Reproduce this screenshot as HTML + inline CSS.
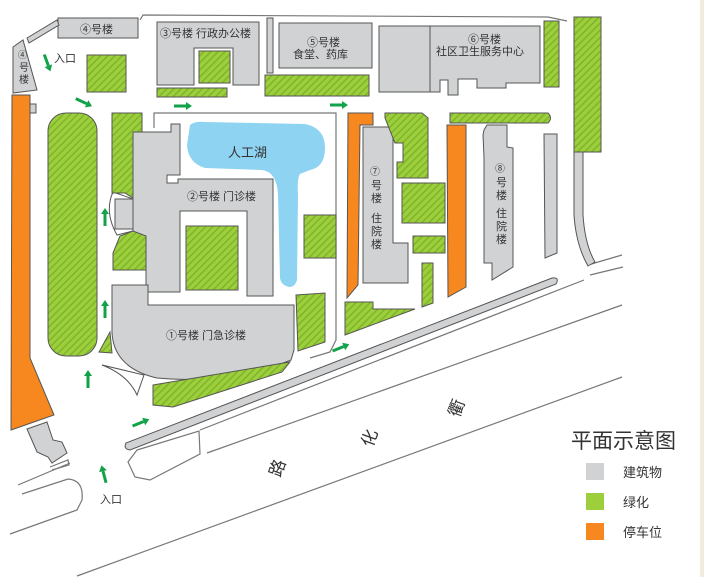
<!DOCTYPE html>
<html><head><meta charset="utf-8"><style>
html,body{margin:0;padding:0;background:#fff;}
svg{display:block;}
text{font-family:"Liberation Sans","Noto Sans CJK SC",sans-serif;fill:#333;}
</style></head><body>
<svg width="704" height="577" viewBox="0 0 704 577" xmlns="http://www.w3.org/2000/svg">
<defs>
<pattern id="h" width="5" height="5" patternUnits="userSpaceOnUse" patternTransform="rotate(45)">
<rect width="5" height="5" fill="#9dcf3c"/><rect width="1.4" height="5" fill="#7cb32a"/>
</pattern>
</defs>
<rect width="704" height="577" fill="#fff"/>
<rect x="700" y="0" width="4" height="577" fill="#f2ecdf"/>
<g fill="none" stroke="#777" stroke-width="1.2">
<polyline points="140,20 143,15 548,17 567,21"/>
<polyline points="154,128 154,113 336,113 336,340 330,352 310,358"/>
<line x1="207" y1="453" x2="622" y2="305"/>
<line x1="200" y1="430" x2="584" y2="280"/>
<line x1="77" y1="576" x2="622" y2="377"/>
<line x1="588" y1="265" x2="622" y2="255"/>
<line x1="590" y1="275" x2="623" y2="267"/>
<line x1="18" y1="485" x2="70" y2="463"/>
<path d="M22,494 L68,479 Q84,480 82,500 L77,510 L10,534"/>
<path d="M137,450 L199,431 L200,454 L150,480 L135,477 L128,462 Z"/>
<polyline points="50,467 68,460 69,465 52,470"/>
</g>
<g stroke="#555" stroke-width="1" fill="#d1d2d4">
<rect x="58" y="18" width="80" height="20"/>
<polygon points="27,38 57,20 59,25 29,43"/>
<polygon points="13,47 23,40 37,90 13,93"/>
<polygon points="20,100 28,98 28,104 36,104 36,113 30,113 30,118 18,118"/>
<polygon points="27,429 47,422 53,440 62,442 67,453 52,463 48,457 37,452"/>
<polygon points="157,22 259,22 259,85 233,85 233,48 194,48 194,85 157,85"/>
<rect x="267" y="18" width="6" height="55"/>
<rect x="279" y="23" width="93" height="45"/>
<rect x="379" y="26" width="51" height="66"/>
<polygon points="430,26 540,26 540,83 506,83 506,88 477,88 477,79 458,79 458,95 448,95 448,80 440,80 440,92 430,92"/>
<polygon points="133,132 171,132 171,124 180,124 180,175 167,175 167,183 178,183 178,179 273,179 273,296 247,296 247,211 180,211 180,292 146,292 146,236 133,236"/>
<path d="M112,285 L148,285 L148,305 L294,305 L294,350 L291,360 Q230,385 157,378 Q114,368 112,333 Z"/>
<rect x="115" y="199" width="18" height="30"/>
<polygon points="363,127 393,127 393,243 408,243 408,283 363,283"/>
<polygon points="484,130 487,125 507,125 507,147 513,148 513,267 492,280 492,263 484,263 484,157 483,135"/>
<polygon points="544,134 557,134 557,253 545,258"/>
<path d="M574,152 L583,152 L583,215 Q585,245 595,262 L588,266 Q576,245 574,215 Z"/>
<path d="M126,443 L552,278 Q560,277 556,284 L130,450 Q123,449 126,443 Z"/>
</g>
<path d="M113,192 Q104,212 117,235 L133,231 L133,199 Z" fill="none" stroke="#555" stroke-width="1"/>
<path d="M102,365 L144,375 L137,395 Q128,375 102,365 Z" fill="#fff" stroke="#555" stroke-width="1"/>
<path d="M190,125 Q195,121 205,122 L305,124 Q325,128 325,148 Q325,167 310,170 L300,174 Q297,178 298,195 L297,280 Q295,287 289,287 Q281,285 280,278 L278,195 Q277,172 262,170 L205,168 Q188,163 187,145 Z" fill="#8fd3f2"/>
<g stroke="#555" stroke-width="1" fill="#f7881f">
<polygon points="12,95 30,95 30,358 54,415 11,430"/>
<polygon points="348,113 373,113 373,125 360,125 358,285 347,298"/>
<polygon points="447,125 466,125 466,287 448,297"/>
</g>
<g stroke="#555" stroke-width="1" fill="url(#h)">
<rect x="48" y="113" width="49" height="243" rx="18"/>
<rect x="87" y="55" width="39" height="37"/>
<rect x="199" y="51" width="31" height="32"/>
<rect x="157" y="88" width="70" height="9"/>
<rect x="265" y="75" width="104" height="21"/>
<rect x="544" y="21" width="15" height="66"/>
<rect x="574" y="17" width="27" height="135"/>
<polygon points="112,113 142,113 142,132 133,132 133,198 125,193 112,193"/>
<polygon points="113,253 120,236 133,231 146,236 146,270 113,270"/>
<rect x="186" y="226" width="52" height="64"/>
<rect x="304" y="215" width="32" height="43"/>
<polygon points="296,295 325,293 325,342 298,351"/>
<polygon points="99,352 110,332 112,353"/>
<polygon points="153,385 290,362 282,372 173,407 153,405"/>
<polygon points="385,113 422,113 428,118 428,178 397,178 397,162 403,162 403,143 395,143 385,118"/>
<rect x="402" y="183" width="43" height="40"/>
<rect x="413" y="236" width="32" height="17"/>
<polygon points="422,263 433,263 433,303 422,307"/>
<polygon points="345,302 373,302 373,309 415,309 345,335"/>
<path d="M450,113 L548,113 Q553,118 548,123 L450,123 Z"/>
</g>
<g fill="#12a24a">
<g transform="translate(47,62) rotate(70)"><rect x="-8" y="-1.5" width="12" height="3"/><polygon points="4,-4 10,0 4,4"/></g>
<g transform="translate(83,102) rotate(25)"><rect x="-8" y="-1.5" width="12" height="3"/><polygon points="4,-4 10,0 4,4"/></g>
<g transform="translate(182,106)"><rect x="-8" y="-1.5" width="12" height="3"/><polygon points="4,-4 10,0 4,4"/></g>
<g transform="translate(338,105)"><rect x="-8" y="-1.5" width="12" height="3"/><polygon points="4,-4 10,0 4,4"/></g>
<g transform="translate(105,218) rotate(-90)"><rect x="-8" y="-1.5" width="12" height="3"/><polygon points="4,-4 10,0 4,4"/></g>
<g transform="translate(105,310) rotate(-90)"><rect x="-8" y="-1.5" width="12" height="3"/><polygon points="4,-4 10,0 4,4"/></g>
<g transform="translate(88,380) rotate(-90)"><rect x="-8" y="-1.5" width="12" height="3"/><polygon points="4,-4 10,0 4,4"/></g>
<g transform="translate(140,423) rotate(-22)"><rect x="-8" y="-1.5" width="12" height="3"/><polygon points="4,-4 10,0 4,4"/></g>
<g transform="translate(340,348) rotate(-22)"><rect x="-8" y="-1.5" width="12" height="3"/><polygon points="4,-4 10,0 4,4"/></g>
<g transform="translate(104,475) rotate(-105)"><rect x="-8" y="-1.5" width="12" height="3"/><polygon points="4,-4 10,0 4,4"/></g>
</g>
<g font-size="11">
<text x="80" y="33">④号楼</text>
<text x="18" y="58" font-size="9">④</text>
<text x="19" y="71" font-size="10">号</text>
<text x="19" y="83" font-size="10">楼</text>
<text x="54" y="62">入口</text>
<text x="160" y="37">③号楼 行政办公楼</text>
<text x="307" y="46">⑤号楼</text>
<text x="293" y="58">食堂、药库</text>
<text x="468" y="43">⑥号楼</text>
<text x="436" y="55">社区卫生服务中心</text>
<text x="228" y="157" font-size="13">人工湖</text>
<text x="187" y="200">②号楼 门诊楼</text>
<text x="166" y="339">①号楼 门急诊楼</text>
<text x="370" y="175" font-size="10">⑦</text>
<text x="371" y="189" font-size="11">号</text>
<text x="371" y="202" font-size="11">楼</text>
<text x="371" y="222" font-size="11">住</text>
<text x="371" y="235" font-size="11">院</text>
<text x="371" y="248" font-size="11">楼</text>
<text x="495" y="172" font-size="10">⑧</text>
<text x="496" y="186" font-size="11">号</text>
<text x="496" y="199" font-size="11">楼</text>
<text x="496" y="217" font-size="11">住</text>
<text x="496" y="230" font-size="11">院</text>
<text x="496" y="243" font-size="11">楼</text>
<text x="100" y="503">入口</text>
</g>
<g font-size="17">
<text transform="translate(283,470) rotate(-70)" text-anchor="middle">路</text>
<text transform="translate(375,440) rotate(-70)" text-anchor="middle">化</text>
<text transform="translate(462,410) rotate(-70)" text-anchor="middle">衢</text>
</g>
<text x="571" y="448" font-size="21" fill="#222">平面示意图</text>
<rect x="586" y="463" width="18" height="17" fill="#d1d2d4"/>
<rect x="586" y="493" width="18" height="17" fill="#9dcf3c"/>
<rect x="586" y="523" width="18" height="17" fill="#f7881f"/>
<g font-size="13"><text x="623" y="477">建筑物</text><text x="623" y="507">绿化</text><text x="623" y="537">停车位</text></g>
</svg>
</body></html>
